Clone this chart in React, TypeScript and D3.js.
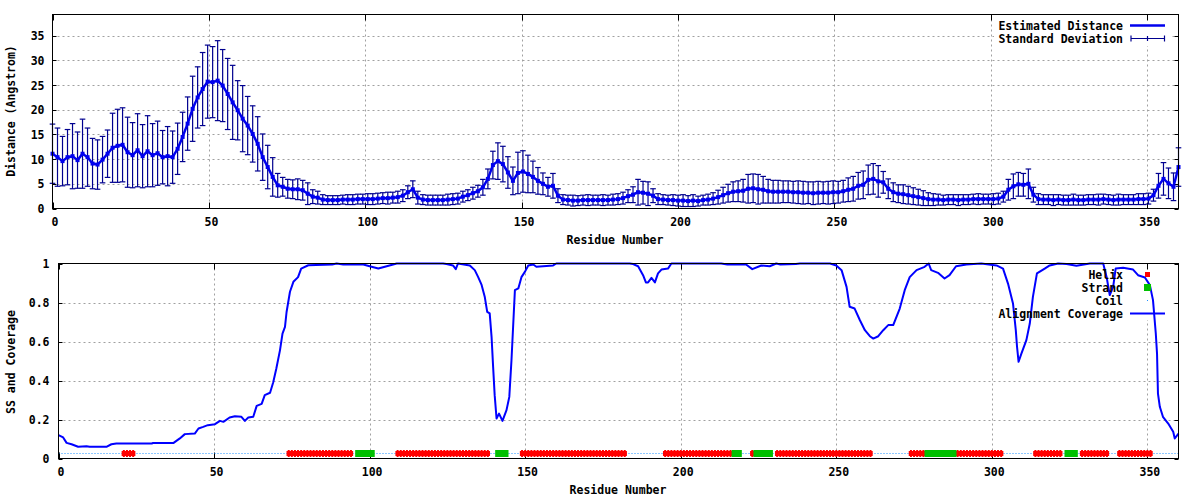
import React from 'react';
import * as d3 from 'd3';

// ---------- data ----------
const RES_STEP = 1.6; // residue spacing of the distance samples

const DISTANCE = [
  11.1, 10.4, 9.6, 10.4, 10.6, 9.8, 11.1, 10.4, 9.1, 8.9,
  9.9, 11.1, 12.3, 12.7, 12.9, 11.4, 10.8, 11.8, 10.6, 11.6,
  10.8, 11.2, 10.4, 10.6, 10.4, 12.1, 14.5, 17.2, 20.2, 22.5,
  24.2, 25.7, 25.6, 25.9, 24.9, 23.2, 21.5, 19.9, 18.2, 16.8,
  15.1, 13.1, 10.4, 8.4, 6.4, 4.7, 4.4, 4.0, 3.9, 3.9,
  3.7, 3.0, 2.4, 2.2, 1.8, 1.7, 1.7, 1.7, 1.8, 1.8,
  1.8, 1.9, 1.9, 1.9, 1.9, 2.0, 2.1, 2.1, 2.2, 2.3,
  2.6, 3.3, 3.9, 2.2, 1.8, 1.7, 1.7, 1.7, 1.7, 1.8,
  1.9, 2.0, 2.4, 2.7, 3.1, 3.5, 4.3, 6.0, 8.8, 9.6,
  9.0, 7.3, 5.6, 7.2, 7.5, 7.0, 6.4, 5.6, 5.0, 4.4,
  4.6, 2.6, 1.8, 1.7, 1.6, 1.6, 1.7, 1.7, 1.7, 1.7,
  1.7, 1.7, 1.8, 1.9, 2.1, 2.5, 2.8, 3.3, 3.2, 3.0,
  2.6, 1.9, 1.8, 1.7, 1.7, 1.6, 1.6, 1.5, 1.6, 1.5,
  1.7, 1.8, 2.0, 2.3, 2.7, 3.1, 3.4, 3.5, 3.6, 4.0,
  4.1, 3.9, 3.8, 3.5, 3.4, 3.4, 3.4, 3.4, 3.3, 3.3,
  3.2, 3.2, 3.1, 3.2, 3.2, 3.2, 3.3, 3.3, 3.5, 3.8,
  4.0, 4.6, 4.8, 5.8, 6.0, 5.5, 5.3, 4.0, 3.3, 3.0,
  2.9, 2.7, 2.5, 2.3, 2.1, 1.9, 1.8, 1.8, 1.7, 1.8,
  1.8, 1.7, 1.8, 1.8, 1.9, 1.9, 1.9, 1.9, 1.9, 2.0,
  2.4, 3.8, 4.5, 4.9, 4.8, 5.0, 2.8, 1.9, 1.8, 1.8,
  1.7, 1.8, 1.7, 1.7, 1.8, 1.7, 1.7, 1.8, 1.8, 1.8,
  1.9, 1.8, 1.7, 1.8, 1.8, 1.8, 1.8, 1.9, 1.9, 2.0,
  2.7, 4.6, 6.0, 5.1, 4.4, 8.4,
];

const STD_DEV = [
  6.0, 5.9, 5.0, 5.6, 6.6, 5.7, 7.0, 5.9, 5.1, 5.0,
  4.7, 4.8, 7.0, 7.4, 7.5, 7.1, 6.6, 7.4, 6.4, 7.2,
  6.4, 6.5, 5.4, 6.0, 5.3, 5.2, 5.0, 5.4, 6.6, 6.2,
  7.4, 7.4, 7.2, 8.1, 7.3, 7.2, 7.5, 6.0, 6.7, 5.9,
  5.7, 5.5, 4.7, 4.4, 3.9, 2.4, 1.9, 1.9, 1.9, 2.1,
  2.0, 2.2, 1.4, 1.3, 1.0, 0.9, 0.9, 0.9, 0.9, 1.0,
  1.0, 1.0, 1.0, 1.1, 1.1, 1.1, 1.1, 1.2, 1.1, 1.2,
  1.2, 1.3, 1.7, 1.3, 1.0, 1.0, 1.0, 1.0, 1.0, 1.1,
  1.1, 1.1, 1.1, 1.1, 1.2, 1.2, 1.6, 2.0, 2.8, 3.7,
  3.6, 3.2, 2.8, 4.2, 4.2, 3.8, 3.2, 2.7, 2.2, 1.9,
  2.5, 1.4, 1.0, 1.0, 1.1, 1.0, 1.0, 1.1, 1.0, 1.0,
  1.1, 1.0, 1.1, 1.1, 1.2, 1.3, 1.6, 2.6, 2.3, 2.4,
  1.4, 1.1, 1.0, 1.0, 1.1, 1.1, 1.2, 1.1, 1.2, 1.0,
  1.0, 1.1, 1.2, 1.4, 1.6, 1.8, 2.0, 2.1, 2.3, 2.9,
  2.9, 3.0, 2.7, 2.4, 2.3, 2.3, 2.2, 2.2, 2.2, 2.3,
  2.3, 2.2, 2.3, 2.3, 2.2, 2.3, 2.3, 2.2, 2.2, 2.4,
  2.5, 2.7, 2.8, 3.0, 3.1, 3.2, 2.2, 2.0, 1.9, 1.8,
  1.9, 1.8, 1.7, 1.6, 1.5, 1.3, 1.2, 1.1, 1.0, 1.0,
  1.0, 1.1, 1.0, 1.0, 1.0, 1.1, 1.0, 1.0, 1.1, 1.1,
  1.1, 2.1, 2.5, 2.4, 2.3, 3.0, 1.5, 1.1, 1.0, 1.0,
  1.1, 1.0, 1.0, 1.0, 1.1, 1.0, 1.0, 1.0, 1.0, 1.1,
  1.0, 1.0, 1.0, 1.1, 1.0, 1.0, 1.0, 1.1, 1.1, 1.1,
  1.2, 2.5, 3.3, 3.1, 2.8, 3.9,
];

const COV_RESIDUE = [
  0, 1.5, 2.6, 4.2, 6.3, 9, 10, 15.4, 17, 18.6, 30, 30.4, 37, 39, 40.6, 43.8, 45, 46.5, 48, 50.3,
  51.9, 53, 55, 56.7, 58.8, 59.9, 61, 62.6, 63.7, 65.3, 66.3, 68, 69, 70, 71.2, 72, 72.8, 73.3, 74.4, 75.5,
  77, 78, 80.3, 88, 89.4, 91.5, 98, 100, 102.8, 105.5, 108.7, 123.6, 124.7, 126.8, 127.7, 128.4, 132.2, 133.8, 134.9, 136,
  137, 137.8, 138.6, 139.2, 139.7, 140.2, 140.8, 141.6, 142.7, 144, 144.9, 145.6, 146.7, 147.8, 148.8, 149.9, 151, 152.6, 153.6, 159,
  160, 183.6, 184.7, 186.3, 187.9, 188.8, 189.5, 190.6, 191.7, 192.7, 193.8, 195.9, 197, 213, 215, 221, 223, 225.9, 228.6, 230.7,
  232, 237, 238.3, 248, 250, 251.7, 253.3, 254.3, 255.9, 257.6, 259.2, 260.8, 261.9, 263.5, 265.1, 266.7, 268.3, 270.4, 272, 273.6,
  275.8, 278.4, 279.7, 280.5, 282.7, 284.8, 286.4, 288.5, 291.8, 296.6, 301.5, 303.6, 305.2, 306.8, 307.7, 308.1, 308.6, 309.5, 311.1, 312.2,
  313.2, 314.5, 317, 318.6, 321.3, 324, 327.2, 331.5, 335.8, 336.9, 337.9, 339, 339.8, 342.2, 345.4, 347, 349.2, 350.8, 351.8, 352.7,
  353.1, 353.4, 354, 355, 356.7, 358.3, 358.8, 360,
];
const COV_VALUE = [
  0.12, 0.108, 0.08, 0.073, 0.06, 0.063, 0.06, 0.06, 0.073, 0.077, 0.077, 0.08, 0.08, 0.103, 0.125, 0.128, 0.154, 0.162, 0.171, 0.176,
  0.193, 0.188, 0.21, 0.217, 0.214, 0.193, 0.21, 0.214, 0.27, 0.28, 0.325, 0.337, 0.39, 0.46, 0.556, 0.64, 0.675, 0.75, 0.855, 0.906,
  0.93, 0.974, 0.991, 0.995, 1.0, 0.995, 0.995, 0.986, 0.974, 0.986, 1.0, 1.0, 0.997, 0.99, 0.971, 1.0, 0.99, 0.966, 0.93, 0.89,
  0.83, 0.752, 0.744, 0.624, 0.47, 0.325, 0.205, 0.23, 0.193, 0.248, 0.316, 0.504, 0.863, 0.872, 0.93, 0.957, 0.99, 0.995, 0.983, 0.99,
  1.0, 1.0, 0.997, 0.986, 0.94, 0.903, 0.903, 0.926, 0.903, 0.949, 0.969, 0.974, 1.0, 1.0, 0.995, 0.995, 0.971, 0.99, 0.986, 1.0,
  0.995, 0.997, 1.0, 1.0, 0.99, 0.966, 0.88, 0.778, 0.769, 0.709, 0.658, 0.627, 0.615, 0.627, 0.658, 0.684, 0.684, 0.769, 0.863, 0.93,
  0.966, 0.983, 1.0, 0.966, 0.952, 0.923, 0.94, 0.986, 0.995, 1.0, 0.99, 0.974, 0.897, 0.795, 0.658, 0.573, 0.496, 0.538, 0.607, 0.692,
  0.829, 0.949, 0.974, 0.99, 1.0, 0.997, 0.988, 1.0, 1.0, 0.93, 0.838, 0.88, 0.974, 0.978, 0.969, 0.94, 0.928, 0.889, 0.812, 0.641,
  0.538, 0.333, 0.265, 0.214, 0.179, 0.137, 0.103, 0.128,
];

const HELIX: [number, number][] = [
  [21, 24], [74, 94], [109, 138], [149, 182], [195, 216], [223, 223], [231, 261],
  [274, 278], [289, 303], [314, 322], [329, 337], [341, 351],
];
const STRAND: [number, number][] = [
  [96, 101], [141, 144], [217, 219], [224, 229], [279, 288], [324, 327],
];
const SS_LEVEL = 0.03;

const X_TICKS = [0, 50, 100, 150, 200, 250, 300, 350];
const TOP_Y_TICKS = [0, 5, 10, 15, 20, 25, 30, 35];
const BOT_Y_TICKS = [0, 0.2, 0.4, 0.6, 0.8, 1];
const BOT_Y_LABELS = ['0', '0.2', '0.4', '0.6', '0.8', '1'];

// ---------- styling ----------
const FONT = '"DejaVu Sans Mono", monospace';
const FS = 11.5;
const LINE_BLUE = '#0000ee';
const BAR_BLUE = '#00008f';
const COV_BLUE = '#0000ff';
const COIL_BLUE = '#1e90ff';
const GRID = '#a0a0a0';

export default function App() {
  // top panel
  const xT = d3.scaleLinear().domain([0, 360]).range([52.5, 1178.5]);
  const yT = d3.scaleLinear().domain([0, 39.3]).range([208.5, 14.5]);
  // bottom panel
  const xB = d3.scaleLinear().domain([0, 360]).range([58.5, 1178.5]);
  const yB = d3.scaleLinear().domain([0, 1]).range([458.5, 263.5]);

  const n = Math.min(DISTANCE.length, STD_DEV.length);
  const pts = d3.range(n).map((i) => ({ r: i * RES_STEP, v: DISTANCE[i], sd: STD_DEV[i] }));
  const distLine = d3.line<{ r: number; v: number }>().x((d) => xT(d.r)).y((d) => yT(d.v))(pts) || '';

  const cov = COV_RESIDUE.map((r, i) => [r, COV_VALUE[i]] as [number, number]);
  const covLine = d3.line<[number, number]>().x((d) => xB(d[0])).y((d) => yB(d[1]))(cov) || '';

  const txt = { fontFamily: FONT, fontSize: FS, fontWeight: 'bold' as const, fill: '#000' };

  const panelFrame = (
    x: d3.ScaleLinear<number, number>,
    y: d3.ScaleLinear<number, number>,
    yTicks: number[],
    yLabels: string[],
    yLabelX: number,
    keyBox: [number, number, number, number],
    key: string,
  ) => {
    const [x0, x1] = x.range();
    const [yb, yt] = y.range();
    return (
      <g key={key}>
        {X_TICKS.filter((t) => t > 0).map((t) => (
          <line key={'gx' + t} x1={Math.round(x(t)) + 0.5} x2={Math.round(x(t)) + 0.5} y1={yt} y2={yb}
            stroke={GRID} strokeWidth={1} strokeDasharray="2,3" />
        ))}
        {yTicks.filter((t) => t > 0 && y(t) > yt + 1).map((t) => (
          <line key={'gy' + t} x1={x0} x2={x1} y1={Math.round(y(t)) + 0.5} y2={Math.round(y(t)) + 0.5}
            stroke={GRID} strokeWidth={1} strokeDasharray="2,3" />
        ))}
        <rect x={keyBox[0]} y={keyBox[1]} width={keyBox[2]} height={keyBox[3]} fill="#fff" />
        {X_TICKS.map((t) => (
          <g key={'tx' + t}>
            <line x1={Math.round(x(t)) + 0.5} x2={Math.round(x(t)) + 0.5} y1={yb} y2={yb - 6} stroke="#000" />
            <line x1={Math.round(x(t)) + 0.5} x2={Math.round(x(t)) + 0.5} y1={yt} y2={yt + 6} stroke="#000" />
            <text x={x(t) + 2.5} y={yb + 13.5} textAnchor="middle" dominantBaseline="central" {...txt}>{t}</text>
          </g>
        ))}
        {yTicks.map((t, i) => (
          <g key={'ty' + t}>
            <line x1={x0} x2={x0 + 4} y1={Math.round(y(t)) + 0.5} y2={Math.round(y(t)) + 0.5} stroke="#000" />
            <line x1={x1} x2={x1 - 4} y1={Math.round(y(t)) + 0.5} y2={Math.round(y(t)) + 0.5} stroke="#000" />
            <text x={yLabelX} y={y(t) + 0.5} textAnchor="end" dominantBaseline="central" {...txt}>{yLabels[i]}</text>
          </g>
        ))}
      </g>
    );
  };

  const capHalf = 2.8;
  const ssY = Math.round(yB(SS_LEVEL));

  return (
    <svg width={1200} height={500} style={{ position: 'absolute', left: 0, top: 0, background: '#fff' }}>
      <rect x={0} y={0} width={1200} height={500} fill="#fff" />

      {/* ===== top panel ===== */}
      {panelFrame(xT, yT, TOP_Y_TICKS, TOP_Y_TICKS.map(String), 44.5, [994, 17, 178, 29], 'top')}

      <g stroke={BAR_BLUE} strokeWidth={1.2} fill="none">
        {pts.map((d, i) => {
          const cx = xT(d.r);
          const lo = yT(Math.max(0, d.v - d.sd));
          const hi = yT(d.v + d.sd);
          return (
            <g key={'eb' + i}>
              <line x1={cx} x2={cx} y1={lo} y2={hi} />
              <line x1={cx - capHalf} x2={cx + capHalf} y1={hi} y2={hi} />
              <line x1={cx - capHalf} x2={cx + capHalf} y1={lo} y2={lo} />
            </g>
          );
        })}
      </g>
      <path d={distLine} fill="none" stroke={LINE_BLUE} strokeWidth={2.5} strokeLinejoin="round" />
      <g fill={LINE_BLUE}>
        {pts.map((d, i) => (
          <rect key={'pt' + i} x={xT(d.r) - 2} y={yT(d.v) - 2} width={4} height={4} />
        ))}
      </g>

      <rect x={52.5} y={14.5} width={1126} height={194} fill="none" stroke="#000" strokeWidth={1} />

      <text x={1123} y={26} textAnchor="end" dominantBaseline="central" {...txt}>Estimated Distance</text>
      <line x1={1130} x2={1165} y1={25.5} y2={25.5} stroke={LINE_BLUE} strokeWidth={2.5} />
      <text x={1123} y={39} textAnchor="end" dominantBaseline="central" {...txt}>Standard Deviation</text>
      <g stroke={BAR_BLUE} strokeWidth={1.2}>
        <line x1={1131} x2={1164.5} y1={38.5} y2={38.5} />
        <line x1={1131} x2={1131} y1={35.5} y2={41.5} />
        <line x1={1164.5} x2={1164.5} y1={35.5} y2={41.5} />
        <line x1={1147.5} x2={1147.5} y1={36} y2={41} />
      </g>

      <text x={615} y={240} textAnchor="middle" dominantBaseline="central" {...txt}>Residue Number</text>
      <text transform="translate(10.5,111) rotate(-90)" textAnchor="middle" dominantBaseline="central" {...txt}>Distance (Angstrom)</text>

      {/* ===== bottom panel ===== */}
      {panelFrame(xB, yB, BOT_Y_TICKS, BOT_Y_LABELS, 49.5, [994, 266, 178, 54], 'bot')}

      <line x1={xB(0)} x2={xB(360)} y1={ssY + 0.5} y2={ssY + 0.5}
        stroke={COIL_BLUE} strokeWidth={1} strokeDasharray="1,2" />
      <g fill="#ff0000">
        {HELIX.map(([a, b], k) => (
          <g key={'h' + k}>
            <rect x={xB(a) - 2.2} y={ssY - 2} width={xB(b) - xB(a) + 4.4} height={5} />
            {d3.range(a, b + 1).map((r) => (
              <rect key={r} x={xB(r) - 1} y={ssY - 3} width={2} height={7} />
            ))}
          </g>
        ))}
      </g>
      <g fill="#00c000">
        {STRAND.map(([a, b], k) => (
          <rect key={'s' + k} x={xB(a) - 2} y={ssY - 3} width={xB(b) - xB(a) + 4} height={7} />
        ))}
      </g>
      <path d={covLine} fill="none" stroke={COV_BLUE} strokeWidth={2} strokeLinejoin="round" />

      <rect x={58.5} y={263.5} width={1120} height={195} fill="none" stroke="#000" strokeWidth={1} />

      <text x={1123} y={275} textAnchor="end" dominantBaseline="central" {...txt}>Helix</text>
      <rect x={1145} y={272} width={5} height={5} fill="#ff0000" />
      <text x={1123} y={288} textAnchor="end" dominantBaseline="central" {...txt}>Strand</text>
      <rect x={1144} y={284} width={7} height={7} fill="#00c000" />
      <text x={1123} y={301} textAnchor="end" dominantBaseline="central" {...txt}>Coil</text>
      <rect x={1147} y={300} width={1} height={1} fill={COIL_BLUE} />
      <text x={1123} y={314} textAnchor="end" dominantBaseline="central" {...txt}>Alignment Coverage</text>
      <line x1={1130} x2={1165} y1={313.5} y2={313.5} stroke={COV_BLUE} strokeWidth={2} />

      <text x={618} y={490} textAnchor="middle" dominantBaseline="central" {...txt}>Residue Number</text>
      <text transform="translate(10.5,362) rotate(-90)" textAnchor="middle" dominantBaseline="central" {...txt}>SS and Coverage</text>
    </svg>
  );
}
